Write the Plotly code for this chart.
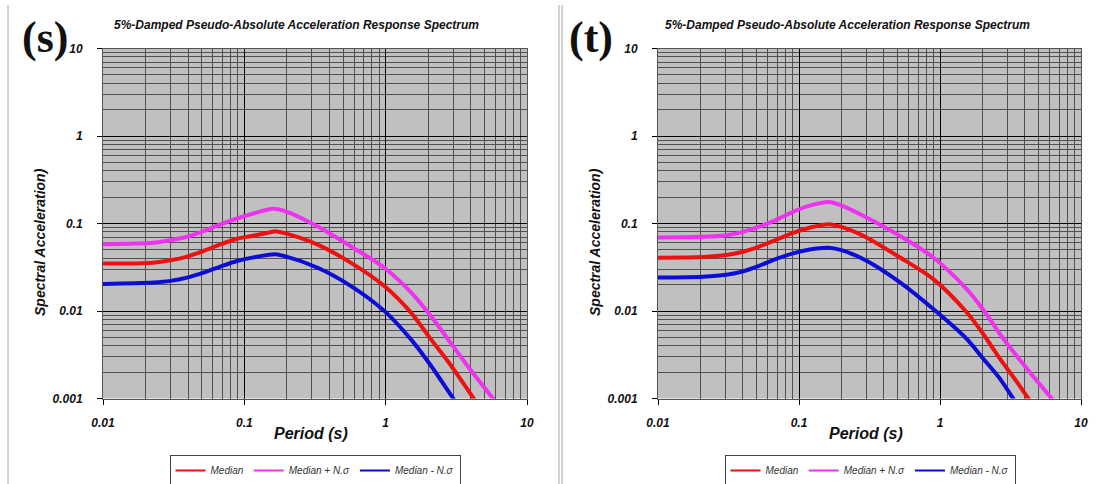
import plotly.graph_objects as go

# ---------------- data ----------------
# Panel (s)
s_med_T = [0.01, 0.0227, 0.0299, 0.0393, 0.0514, 0.0676, 0.0888, 0.113, 0.153, 0.165, 0.19, 0.327, 0.565, 0.973, 1.5, 2.08, 2.89, 4.0, 4.5]
s_med_SA = [0.0348, 0.0357, 0.038, 0.0419, 0.0485, 0.0577, 0.067, 0.072, 0.0796, 0.0818, 0.078, 0.0577, 0.0357, 0.0194, 0.0097, 0.0048, 0.0024, 0.00112, 0.00085]
s_plus_T = [0.01, 0.0227, 0.0299, 0.0393, 0.0514, 0.0676, 0.0888, 0.116, 0.16, 0.2, 0.328, 0.565, 0.973, 1.5, 2.08, 2.89, 4.0, 5.75, 6.3]
s_plus_SA = [0.058, 0.0602, 0.0645, 0.0706, 0.0818, 0.0975, 0.114, 0.13, 0.147, 0.136, 0.093, 0.055, 0.0314, 0.0165, 0.0088, 0.0043, 0.0021, 0.001, 0.00082]
s_minus_T = [0.01, 0.0227, 0.0299, 0.0393, 0.0514, 0.0676, 0.0888, 0.116, 0.165, 0.19, 0.327, 0.565, 0.973, 1.5, 2.08, 2.89, 3.3]
s_minus_SA = [0.0204, 0.0212, 0.0221, 0.0241, 0.0275, 0.0322, 0.0373, 0.041, 0.0444, 0.0426, 0.0314, 0.0194, 0.0101, 0.0048, 0.0024, 0.0011, 0.0008]

# Panel (t)
t_med_T = [0.01, 0.0209, 0.0306, 0.0401, 0.0526, 0.069, 0.0906, 0.119, 0.163, 0.205, 0.301, 0.518, 0.892, 1.54, 2.02, 2.65, 3.48, 4.23, 4.7]
t_med_SA = [0.0407, 0.0414, 0.0436, 0.0476, 0.0548, 0.0652, 0.078, 0.0895, 0.0982, 0.0901, 0.0693, 0.0411, 0.0233, 0.00974, 0.0055, 0.00287, 0.00158, 0.001, 0.00079]
t_plus_T = [0.01, 0.0209, 0.0306, 0.0401, 0.0526, 0.069, 0.0906, 0.119, 0.163, 0.205, 0.301, 0.518, 0.892, 1.54, 2.02, 2.65, 3.48, 4.57, 6.2, 6.8]
t_plus_SA = [0.0693, 0.0705, 0.0736, 0.0803, 0.0925, 0.11, 0.136, 0.16, 0.176, 0.158, 0.117, 0.0723, 0.0411, 0.0179, 0.0104, 0.0055, 0.0031, 0.0018, 0.001, 0.00083]
t_minus_T = [0.01, 0.0209, 0.0306, 0.0401, 0.0526, 0.069, 0.0906, 0.119, 0.163, 0.205, 0.301, 0.518, 0.892, 1.54, 2.02, 2.65, 3.3, 3.6]
t_minus_SA = [0.0241, 0.0247, 0.026, 0.0284, 0.033, 0.0393, 0.0455, 0.0505, 0.0528, 0.0489, 0.0376, 0.0214, 0.0106, 0.00484, 0.00287, 0.0017, 0.001, 0.0008]

series_names = ["Median", "Median + N.\u03c3", "Median - N.\u03c3"]
series_colors = ["#ee1111", "#ee33ee", "#0c0cd4"]

x_tickvals = [0.01, 0.1, 1, 10]
x_ticktext = ["0.01", "0.1", "1", "10"]
y_tickvals = [0.001, 0.01, 0.1, 1, 10]
y_ticktext = ["0.001", "0.01", "0.1", "1", "10"]

title_text = "5%-Damped Pseudo-Absolute Acceleration Response Spectrum"
panel_labels = ["(s)", "(t)"]
x_title = "Period (s)"
y_title = "Spectral Acceleration)"

# ---------------- figure ----------------
W, H = 1111, 484
FONT = "Liberation Sans, Arial, sans-serif"

fig = go.Figure()

panels = [
    ("x", "y", "legend", [(s_med_T, s_med_SA), (s_plus_T, s_plus_SA), (s_minus_T, s_minus_SA)]),
    ("x2", "y2", "legend2", [(t_med_T, t_med_SA), (t_plus_T, t_plus_SA), (t_minus_T, t_minus_SA)]),
]
for xa, ya, lg, data in panels:
    for (T, SA), name, col in zip(data, series_names, series_colors):
        fig.add_trace(go.Scatter(
            x=T, y=SA, mode="lines", name=name, xaxis=xa, yaxis=ya, showlegend=False,
            line=dict(color=col, width=4, shape="spline", smoothing=0.8),
        ))
    # legend keys (thin lines, as in the reference legend)
    for name, col in zip(series_names, series_colors):
        fig.add_trace(go.Scatter(
            x=[None], y=[None], mode="lines", name=name, xaxis=xa, yaxis=ya, legend=lg,
            line=dict(color=col, width=2), showlegend=True, hoverinfo="skip",
        ))

x_domains = [[103 / W, 527 / W], [658 / W, 1081 / W]]
y_domain = [1 - 398.5 / H, 1 - 48.5 / H]

tickfont = dict(family=FONT, size=12, color="#111", weight="bold", style="italic")

def xaxis_cfg(dom, anchor):
    return dict(
        type="log", range=[-2, 1], domain=dom, anchor=anchor, automargin=False,
        tickmode="array", tickvals=x_tickvals, ticktext=x_ticktext,
        showgrid=True, gridcolor="#000000", gridwidth=1,
        minor=dict(dtick="D1", showgrid=True, gridcolor="#505050", gridwidth=1, ticks=""),
        ticks="outside", ticklen=5, tickcolor="#000", tickfont=tickfont, ticklabelstandoff=8,
        showline=True, linecolor="#555", linewidth=1, mirror=True, zeroline=False,
    )

def yaxis_cfg(anchor):
    return dict(
        type="log", range=[-3, 1], domain=y_domain, anchor=anchor, automargin=False,
        tickmode="array", tickvals=y_tickvals, ticktext=y_ticktext,
        showgrid=True, gridcolor="#000000", gridwidth=1,
        minor=dict(dtick="D1", showgrid=True, gridcolor="#505050", gridwidth=1, ticks=""),
        ticks="outside", ticklen=5, tickcolor="#000", tickfont=tickfont, ticklabelstandoff=12,
        showline=True, linecolor="#555", linewidth=1, mirror=True, zeroline=False,
    )

legend_common = dict(
    orientation="h", xanchor="center", yanchor="bottom", y=-0.004,
    bordercolor="#444", borderwidth=1, bgcolor="white",
    font=dict(family=FONT, size=10, color="#333", style="italic"),
    tracegroupgap=0,
)

fig.update_layout(
    width=W, height=H, autosize=False,
    margin=dict(l=0, r=0, t=0, b=0, autoexpand=False),
    paper_bgcolor="white", plot_bgcolor="#c0c0c0",
    xaxis=xaxis_cfg(x_domains[0], "y"),
    yaxis=yaxis_cfg("x"),
    xaxis2=xaxis_cfg(x_domains[1], "y2"),
    yaxis2=yaxis_cfg("x2"),
    legend=dict(x=315 / W, **legend_common),
    legend2=dict(x=870 / W, **legend_common),
    showlegend=True,
)

annotations = []
title_cx = [296, 847]
label_cx = [45, 591]
ytitle_cx = [40, 595]
xtitle_cx = [311, 866]
for i in range(2):
    annotations.append(dict(
        text=title_text, x=title_cx[i] / W, y=1 - 25 / H, xref="paper", yref="paper",
        showarrow=False, xanchor="center", yanchor="middle",
        font=dict(family=FONT, size=12, color="#111", weight="bold", style="italic"),
    ))
    annotations.append(dict(
        text=panel_labels[i], x=label_cx[i] / W, y=1 - 37 / H, xref="paper", yref="paper",
        showarrow=False, xanchor="center", yanchor="middle",
        font=dict(family="Liberation Serif, Times New Roman, serif", size=44, color="#111", weight="bold"),
    ))
    annotations.append(dict(
        text=y_title, x=ytitle_cx[i] / W, y=1 - 242 / H, xref="paper", yref="paper",
        showarrow=False, xanchor="center", yanchor="middle", textangle=-90,
        font=dict(family=FONT, size=14, color="#111", weight="bold", style="italic"),
    ))
    annotations.append(dict(
        text=x_title, x=xtitle_cx[i] / W, y=1 - 433 / H, xref="paper", yref="paper",
        showarrow=False, xanchor="center", yanchor="middle",
        font=dict(family=FONT, size=16, color="#111", weight="bold", style="italic"),
    ))
fig.update_layout(annotations=annotations)

# panel frame lines
shapes = []
for px in [8, 559, 562]:
    shapes.append(dict(type="line", xref="paper", yref="paper",
                       x0=px / W, x1=px / W, y0=0, y1=1 - 5 / H,
                       line=dict(color="#a8a8a8", width=1)))
fig.update_layout(shapes=shapes)

fig.write_html("out.html")
